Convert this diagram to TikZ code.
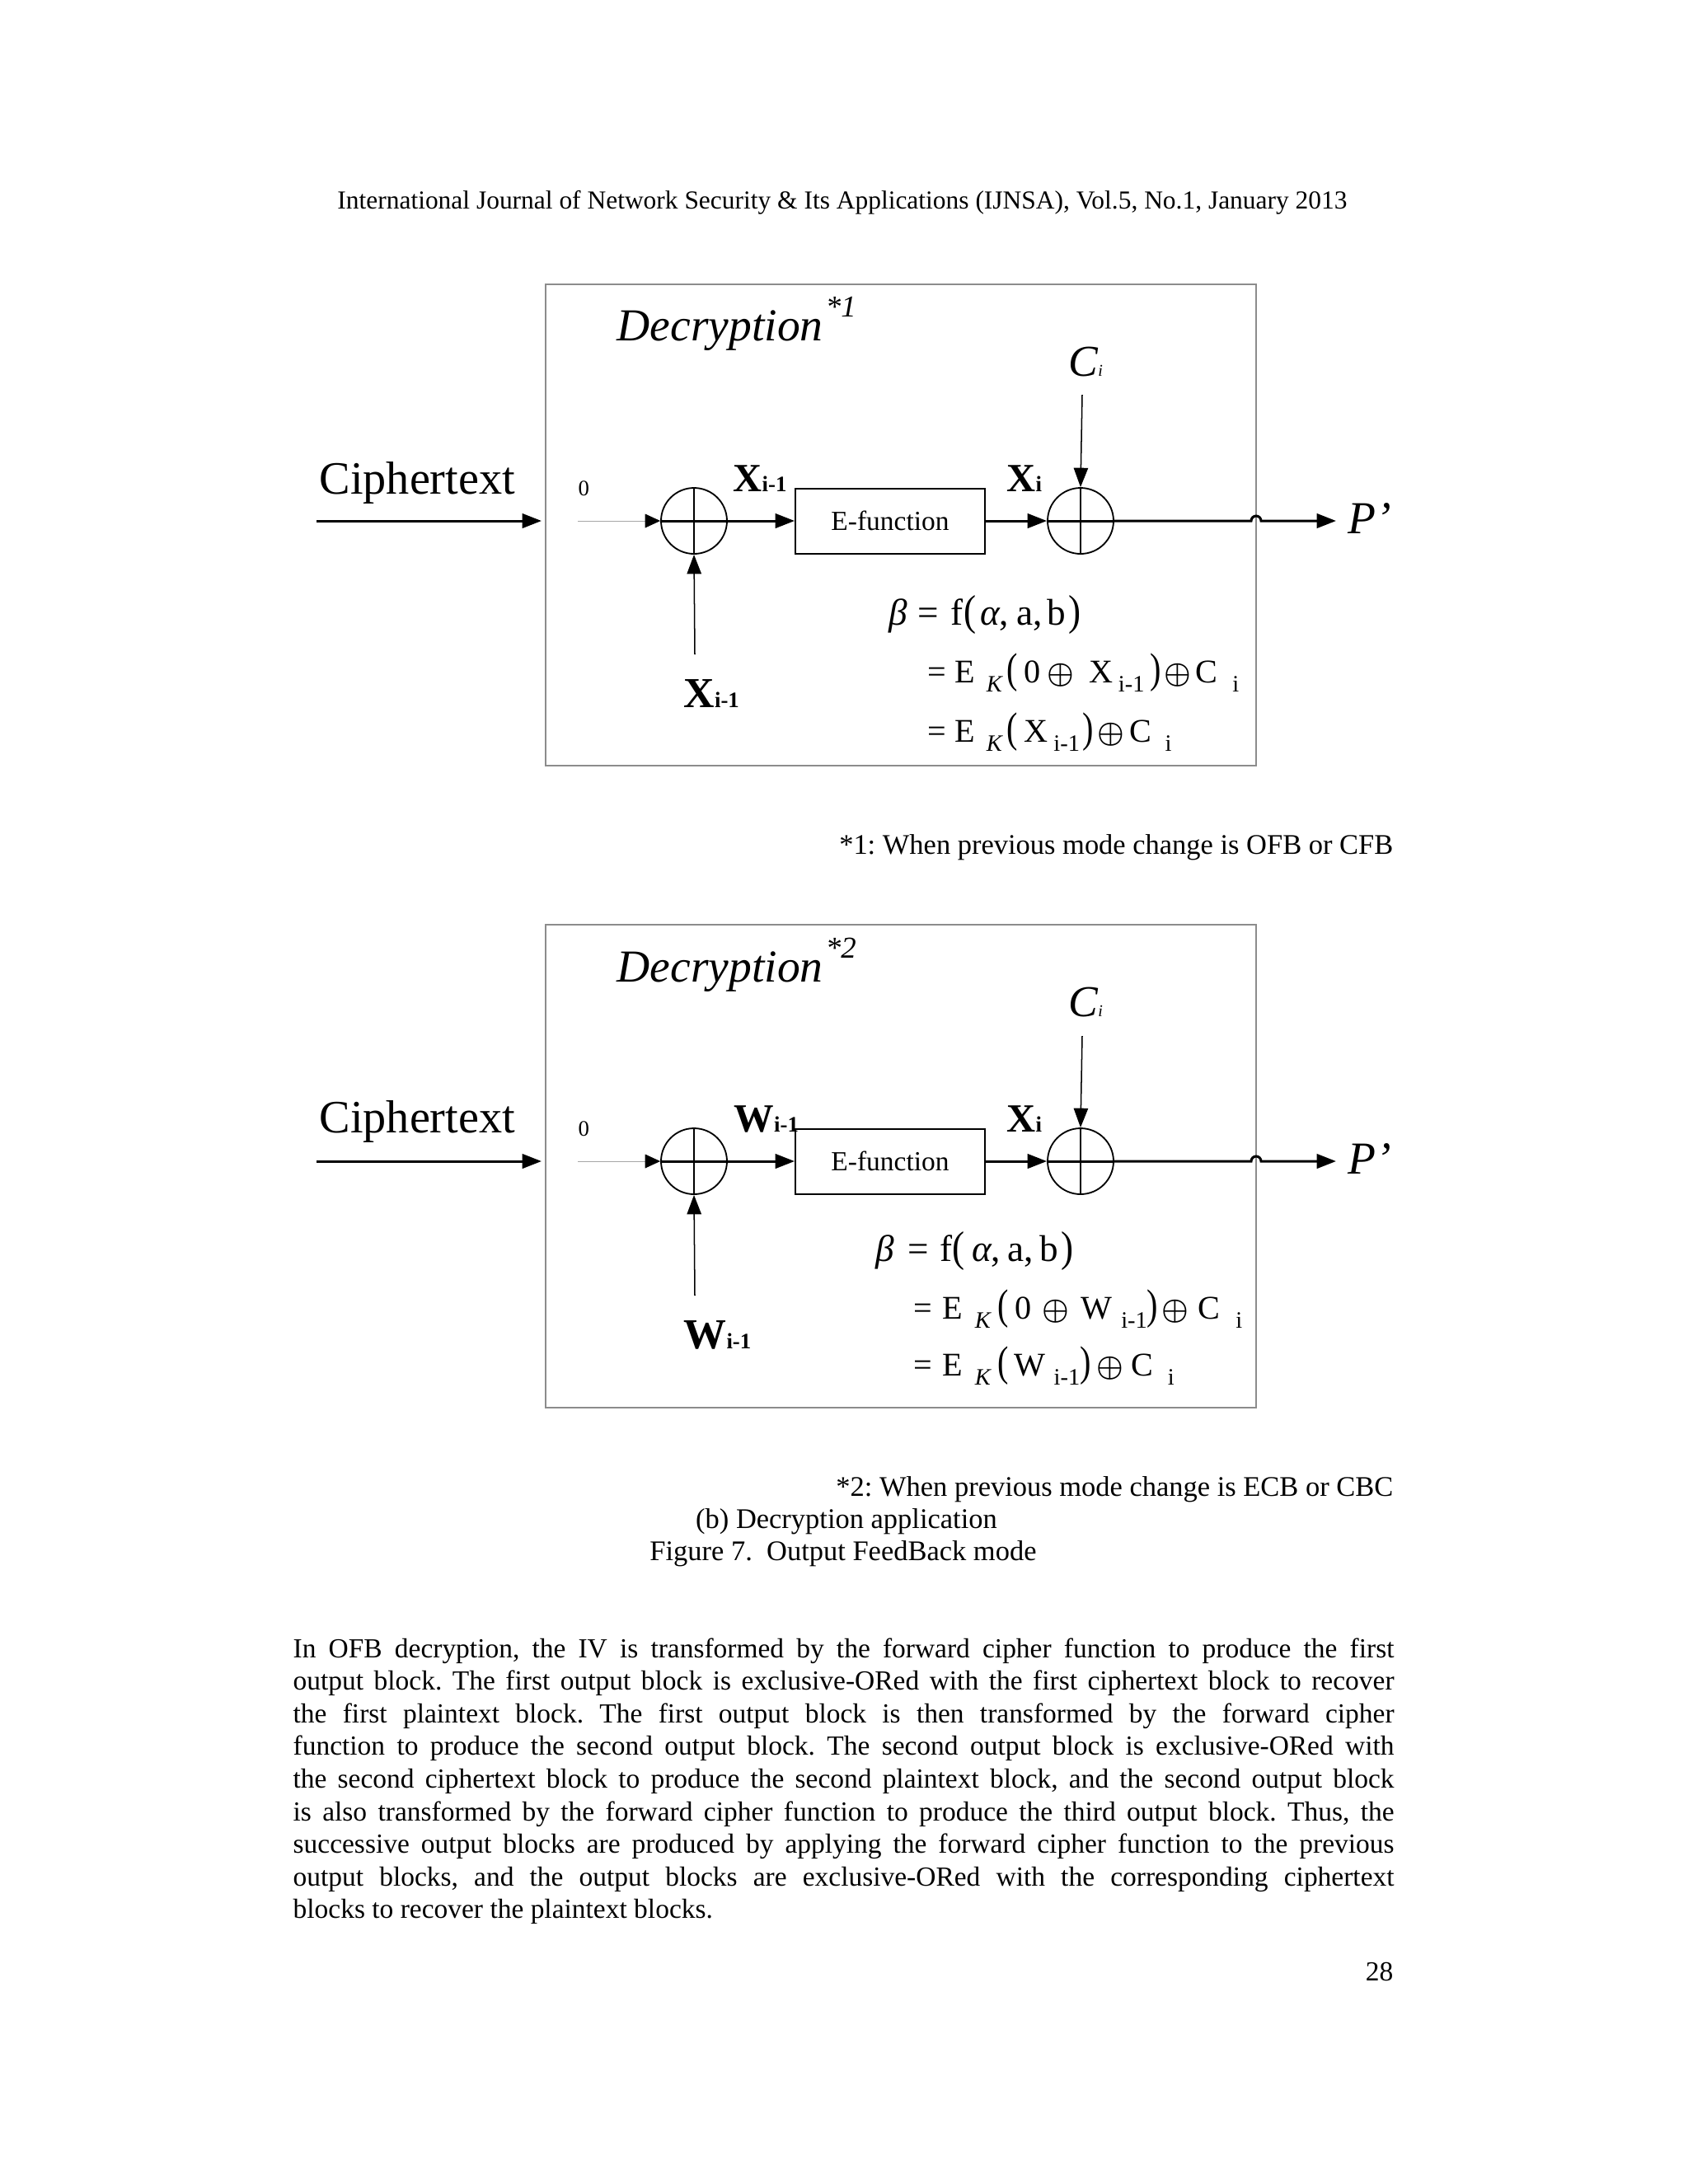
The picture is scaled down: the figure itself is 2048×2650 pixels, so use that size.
\documentclass[tikz,border=0pt]{standalone}
\usepackage{fontspec}
\setmainfont{Liberation Serif}
\usepackage{graphicx}
\usetikzlibrary{arrows.meta}
\frenchspacing

% tall parentheses and lowered indices of the formulas
\newcommand{\bigpar}[1]{\scalebox{1}[1.15]{#1}}
\newcommand{\tallpar}[1]{\scalebox{1}[1.28]{#1}}
\newcommand{\dn}[1]{\raisebox{-3.5pt}{\fontsize{8.5}{8.5}\selectfont #1}}
\newcommand{\xo}{{\fontsize{10.5}{10.5}\selectfont\boldmath$\oplus$}}

\tikzset{
  frame/.style={draw=black!45, line width=0.5pt},
  xorc/.style={circle, draw, line width=0.55pt, minimum size=23.9pt, inner sep=0pt},
  efunc/.style={draw, line width=0.6pt, minimum width=68.7pt, minimum height=23.6pt, inner sep=0pt, font=\fontsize{10}{12}\selectfont},
  flow/.style={line width=0.9pt, -{Triangle[length=7pt,width=5.2pt]}},
  feed/.style={line width=0.45pt, -{Triangle[length=7pt,width=5.2pt]}},
  zero/.style={draw=black!35, line width=0.3pt, -{Triangle[length=5.5pt,width=5pt,color=black]}},
  lbl/.style={anchor=base west, inner sep=0pt},
  big/.style={font=\fontsize{16.6}{16.6}\selectfont},
  eqtop/.style={anchor=base west, inner sep=0pt, font=\fontsize{13.5}{13.5}\selectfont},
  eqn/.style={anchor=base west, inner sep=0pt, font=\fontsize{12}{12}\selectfont},
  plain/.style={inner sep=0pt, font=\fontsize{10.3}{11.84}\selectfont},
}

\begin{document}
\begin{tikzpicture}[x=0.29883pt, y=-0.29883pt]
  \useasboundingbox (0,0) rectangle (2048,2650);

  \node[plain, anchor=base, font=\fontsize{9.4}{11}\selectfont] (header) at (1022,253)
    {International Journal of Network Security \& Its Applications (IJNSA), Vol.5, No.1, January 2013};

  % first decryption block
  \draw [frame] (662,345) rectangle (1524,929);
  \node[lbl, big] (dec1) at (748,413) {\itshape Decryption\hspace{1pt}\raisebox{8.4pt}{\fontsize{11}{11}\selectfont *1}};
  \node[lbl, font=\fontsize{16}{16}\selectfont] (ci1) at (1296,456) {\itshape C\fontsize{6}{6}\selectfont i};
  \node[lbl, font=\fontsize{16.8}{16.8}\selectfont] (ct1) at (387,599) {Ciphertext};
  \node[lbl, font=\fontsize{8}{8}\selectfont] (z1) at (701,601) {0};
  \node[xorc] (xa1) at (842,632) {};
  \node[efunc] (ef1) at (1080,632) {E-function};
  \node[xorc] (xb1) at (1311,632) {};
  \node[lbl, font=\fontsize{14.5}{14.5}\selectfont\bfseries] (xu1) at (889,596) {X\fontsize{8}{8}\selectfont i-1};
  \node[lbl, font=\fontsize{14.5}{14.5}\selectfont\bfseries] (xo1) at (1221,596) {X\fontsize{8}{8}\selectfont i};
  \node[lbl, font=\fontsize{15.5}{15.5}\selectfont\bfseries] (xd1) at (829,858) {X\fontsize{8}{8}\selectfont i-1};
  \node[lbl, big] (p1) at (1635,647) {\itshape P’};
  \coordinate (cin1) at (384,632);
  \coordinate (cend1) at (657,632);
  \coordinate (zs1) at (701,632);
  \coordinate (ct1a) at (1313,479);
  \coordinate (fb1) at (843,794);
  \coordinate (pend1) at (1621,632);
  \draw [thick] (xa1.north) -- (xa1.south);
  \draw [line width=0.9pt] (xa1.west) -- (xa1.east);
  \draw [thick] (xb1.north) -- (xb1.south);
  \draw [line width=0.9pt] (xb1.west) -- (xb1.east);
  \draw [flow] (cin1) -- (cend1);
  \draw [zero] (zs1) -- (xa1.west);
  \draw [flow] (xa1.east) -- (ef1.west);
  \draw [flow] (ef1.east) -- (xb1.west);
  \draw [feed] (ct1a) -- (xb1.north);
  \draw [feed] (fb1) -- (xa1.south);
  \draw [flow] (xb1.east) -- (1518,632) arc (180:360:6) -- (pend1);
  \node[eqtop] (eq1a) at (1078,758) {\itshape β\upshape\hspace{3.6pt}=\hspace{4.3pt}f\hspace{0.3pt}\bigpar{(}\hspace{1.5pt}\itshape α\upshape,\hspace{2.7pt}a,\hspace{1.8pt}b\hspace{0.95pt}\bigpar{)}};
  \node[eqn] (eq1b) at (1125,828) {=\hspace{3pt}E\hspace{4.2pt}\dn{\itshape K}\hspace{1.7pt}\tallpar{(}\hspace{2.1pt}0\hspace{2.4pt}\xo\hspace{5.5pt}X\hspace{2pt}\dn{i-1}\hspace{2pt}\tallpar{)}\hspace{1.2pt}\xo\hspace{1.6pt}C\hspace{5.3pt}\dn{i}};
  \node[eqn] (eq1c) at (1125,900) {=\hspace{3pt}E\hspace{4.2pt}\dn{\itshape K}\hspace{1.7pt}\tallpar{(}\hspace{2.3pt}X\hspace{2pt}\dn{i-1}\hspace{1pt}\tallpar{)}\hspace{1.5pt}\xo\hspace{1.7pt}C\hspace{5pt}\dn{i}};

  \node[plain, anchor=base east] (note1) at (1691,1036) {*1: When previous mode change is OFB or CFB};

  % second decryption block
  \draw [frame] (662,1122) rectangle (1524,1708);
  \node[lbl, big] (dec2) at (748,1191) {\itshape Decryption\hspace{1pt}\raisebox{8.4pt}{\fontsize{11}{11}\selectfont *2}};
  \node[lbl, font=\fontsize{16}{16}\selectfont] (ci2) at (1296,1233) {\itshape C\fontsize{6}{6}\selectfont i};
  \node[lbl, font=\fontsize{16.8}{16.8}\selectfont] (ct2) at (387,1374) {Ciphertext};
  \node[lbl, font=\fontsize{8}{8}\selectfont] (z2) at (701,1378) {0};
  \node[xorc] (xa2) at (842,1409) {};
  \node[efunc] (ef2) at (1080,1409) {E-function};
  \node[xorc] (xb2) at (1311,1409) {};
  \node[lbl, font=\fontsize{14.5}{14.5}\selectfont\bfseries] (wu2) at (890,1373) {W\fontsize{8}{8}\selectfont i-1};
  \node[lbl, font=\fontsize{14.5}{14.5}\selectfont\bfseries] (xo2) at (1221,1373) {X\fontsize{8}{8}\selectfont i};
  \node[lbl, font=\fontsize{15.5}{15.5}\selectfont\bfseries] (wd2) at (829,1636) {W\fontsize{8}{8}\selectfont i-1};
  \node[lbl, big] (p2) at (1635,1424) {\itshape P’};
  \coordinate (cin2) at (384,1409);
  \coordinate (cend2) at (657,1409);
  \coordinate (zs2) at (701,1409);
  \coordinate (ct2a) at (1313,1257);
  \coordinate (fb2) at (843,1572);
  \coordinate (pend2) at (1621,1409);
  \draw [thick] (xa2.north) -- (xa2.south);
  \draw [line width=0.9pt] (xa2.west) -- (xa2.east);
  \draw [thick] (xb2.north) -- (xb2.south);
  \draw [line width=0.9pt] (xb2.west) -- (xb2.east);
  \draw [flow] (cin2) -- (cend2);
  \draw [zero] (zs2) -- (xa2.west);
  \draw [flow] (xa2.east) -- (ef2.west);
  \draw [flow] (ef2.east) -- (xb2.west);
  \draw [feed] (ct2a) -- (xb2.north);
  \draw [feed] (fb2) -- (xa2.south);
  \draw [flow] (xb2.east) -- (1518,1409) arc (180:360:6) -- (pend2);
  \node[eqtop] (eq2a) at (1062,1530) {\itshape β\upshape\hspace{5pt}=\hspace{3.8pt}f\bigpar{(}\hspace{2.7pt}\itshape α\upshape,\hspace{2.4pt}a,\hspace{2.3pt}b\hspace{0.95pt}\bigpar{)}};
  \node[eqn] (eq2b) at (1108,1600) {=\hspace{3.6pt}E\hspace{4.5pt}\dn{\itshape K}\hspace{2.6pt}\tallpar{(}\hspace{2.1pt}0\hspace{3.9pt}\xo\hspace{4.4pt}W\hspace{3.2pt}\dn{i-1}\tallpar{)}\hspace{1.2pt}\xo\hspace{3.4pt}C\hspace{5.7pt}\dn{i}};
  \node[eqn] (eq2c) at (1108,1669) {=\hspace{3.6pt}E\hspace{4.5pt}\dn{\itshape K}\hspace{2.6pt}\tallpar{(}\hspace{1.8pt}W\hspace{3.2pt}\dn{i-1}\tallpar{)}\hspace{2.1pt}\xo\hspace{2.8pt}C\hspace{5.2pt}\dn{i}};

  \node[plain, anchor=base east] (note2) at (1691,1815) {*2: When previous mode change is ECB or CBC};
  \node[plain, anchor=base] (sub) at (1027,1854) {(b) Decryption application};
  \node[plain, anchor=base] (cap) at (1023,1893) {Figure 7.\ \ Output FeedBack mode};

  \node[plain, anchor=base west, text width=399.2pt, align=justify, font=\fontsize{10}{11.84}\selectfont] (body) at (355,2011)
    {\hyphenpenalty=10000 \exhyphenpenalty=10000
     In OFB decryption, the IV is transformed by the forward cipher function to produce the first\linebreak
     output block. The first output block is exclusive-ORed with the first ciphertext block to recover\linebreak
     the first plaintext block. The first output block is then transformed by the forward cipher\linebreak
     function to produce the second output block. The second output block is exclusive-ORed with\linebreak
     the second ciphertext block to produce the second plaintext block, and the second output block\linebreak
     is also transformed by the forward cipher function to produce the third output block. Thus, the\linebreak
     successive output blocks are produced by applying the forward cipher function to the previous\linebreak
     output blocks, and the output blocks are exclusive-ORed with the corresponding ciphertext\linebreak
     blocks to recover the plaintext blocks.};

  \node[plain, anchor=base east, font=\fontsize{10}{11.84}\selectfont] (page) at (1691,2403) {28};
\end{tikzpicture}
\end{document}
